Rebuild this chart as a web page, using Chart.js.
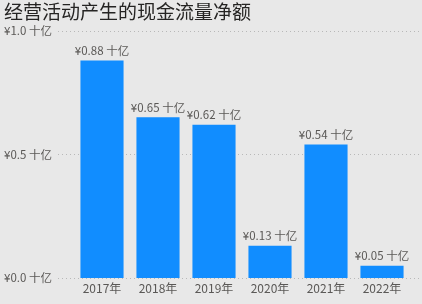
<!DOCTYPE html>
<html>
<head>
<meta charset="utf-8">
<script src="https://cdn.jsdelivr.net/npm/chart.js@4.4.0/dist/chart.umd.min.js"></script>
<style>
  html, body { margin: 0; padding: 0; background: #e8e8e8; }
  #wrap { width: 422px; height: 304px; }
</style>
</head>
<body>
<div id="wrap"><canvas id="cashChart"></canvas></div>
<script>
const years = ["2017年", "2018年", "2019年", "2020年", "2021年", "2022年"];
const netCash = [0.88, 0.65, 0.62, 0.13, 0.54, 0.05];
const yTicks = [0, 0.5, 1.0];

const FONT = "'Segoe UI', 'Noto Sans CJK SC', 'Noto Sans', sans-serif";

// 虚线网格（从标签右侧一直到画布右边）
const dottedGrid = {
  id: "dottedGrid",
  beforeDatasetsDraw(chart) {
    const { ctx, scales } = chart;
    ctx.save();
    ctx.strokeStyle = "#b8b8b8";
    ctx.lineWidth = 1;
    ctx.setLineDash([1, 3]);
    yTicks.forEach((v) => {
      const y = Math.round(scales.y.getPixelForValue(v)) + 0.5;
      ctx.beginPath();
      ctx.moveTo(58, y);
      ctx.lineTo(chart.width, y);
      ctx.stroke();
    });
    ctx.restore();
  }
};

// 柱顶数据标签
const barLabels = {
  id: "barLabels",
  afterDatasetsDraw(chart) {
    const { ctx } = chart;
    const meta = chart.getDatasetMeta(0);
    ctx.save();
    ctx.fillStyle = "#5a5856";
    ctx.font = "11.5px " + FONT;
    ctx.textAlign = "center";
    ctx.textBaseline = "bottom";
    meta.data.forEach((bar, i) => {
      ctx.fillText("¥" + netCash[i].toFixed(2) + " 十亿", bar.x, bar.y - 4);
    });
    ctx.restore();
  }
};

new Chart(document.getElementById("cashChart"), {
  type: "bar",
  data: {
    labels: years,
    datasets: [{
      data: netCash,
      backgroundColor: "#118dff",
      categoryPercentage: 0.77,
      barPercentage: 1.0
    }]
  },
  options: {
    responsive: true,
    maintainAspectRatio: false,
    animation: false,
    layout: { padding: { left: 4, right: 12, top: 0, bottom: 4 } },
    plugins: {
      legend: { display: false },
      tooltip: { enabled: false },
      title: {
        display: true,
        text: "经营活动产生的现金流量净额",
        align: "start",
        color: "#252423",
        font: { family: FONT, size: 19, weight: "normal" },
        padding: { top: 0, bottom: 8 }
      }
    },
    scales: {
      x: {
        afterFit(scale) { scale.height = 22; },
        grid: { display: false, drawTicks: false },
        border: { display: false },
        ticks: { color: "#5a5856", font: { family: FONT, size: 12 }, padding: 3 }
      },
      y: {
        min: 0,
        max: 1.0,
        afterBuildTicks(scale) { scale.ticks = yTicks.map((v) => ({ value: v })); },
        afterFit(scale) { scale.width = 70; },
        grid: { display: false },
        border: { display: false },
        ticks: {
          crossAlign: "far",
          color: "#5a5856",
          font: { family: FONT, size: 11.5 },
          callback: (v) => "¥" + Number(v).toFixed(1) + " 十亿"
        }
      }
    }
  },
  plugins: [dottedGrid, barLabels]
});
</script>
</body>
</html>
